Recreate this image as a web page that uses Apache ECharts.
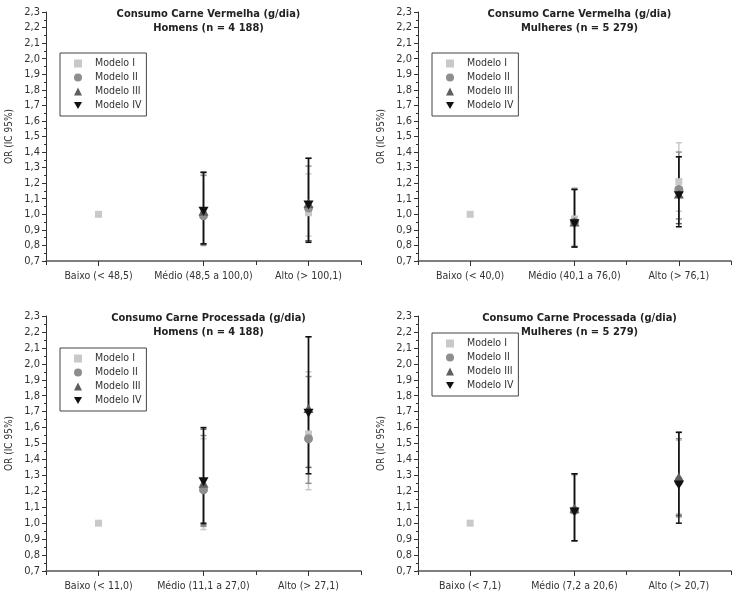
<!DOCTYPE html>
<html><head><meta charset="utf-8">
<script src="https://cdn.jsdelivr.net/npm/echarts@6/dist/echarts.min.js"></script>
<style>html,body{margin:0;padding:0;background:#fff}#c{width:733px;height:593px}</style>
</head><body><div id="c"></div>
<script>
// ---- Data ----
const modelNames = ['Modelo I', 'Modelo II', 'Modelo III', 'Modelo IV'];
const titles = [
  'Consumo Carne Vermelha (g/dia)\nHomens (n = 4 188)',
  'Consumo Carne Vermelha (g/dia)\nMulheres (n = 5 279)',
  'Consumo Carne Processada (g/dia)\nHomens (n = 4 188)',
  'Consumo Carne Processada (g/dia)\nMulheres (n = 5 279)'
];
const catsVermelhaH = ['Baixo (< 48,5)', 'Médio (48,5 a 100,0)', 'Alto (> 100,1)'];
const catsVermelhaM = ['Baixo (< 40,0)', 'Médio (40,1 a 76,0)', 'Alto (> 76,1)'];
const catsProcH = ['Baixo (< 11,0)', 'Médio (11,1 a 27,0)', 'Alto (> 27,1)'];
const catsProcM = ['Baixo (< 7,1)', 'Médio (7,2 a 20,6)', 'Alto (> 20,7)'];

// Panel 1: Carne Vermelha, Homens
const vhOR = [[1.00, 1.00, 1.01], [null, 0.99, 1.04], [null, 1.02, 1.07], [null, 1.02, 1.06]];
const vhLo = [[null, 0.81, 0.86], [null, 0.80, 0.83], [null, 0.81, 0.83], [null, 0.81, 0.82]];
const vhHi = [[null, 1.26, 1.26], [null, 1.25, 1.31], [null, 1.27, 1.36], [null, 1.27, 1.36]];
// Panel 2: Carne Vermelha, Mulheres
const vmOR = [[1.00, 0.97, 1.21], [null, 0.95, 1.16], [null, 0.95, 1.13], [null, 0.94, 1.12]];
const vmLo = [[null, 0.80, 1.02], [null, 0.79, 0.97], [null, 0.79, 0.94], [null, 0.79, 0.92]];
const vmHi = [[null, 1.17, 1.46], [null, 1.16, 1.40], [null, 1.16, 1.37], [null, 1.16, 1.37]];
// Panel 3: Carne Processada, Homens
const phOR = [[1.00, 1.22, 1.56], [null, 1.21, 1.53], [null, 1.25, 1.72], [null, 1.26, 1.69]];
const phLo = [[null, 0.96, 1.21], [null, 0.98, 1.25], [null, 0.99, 1.35], [null, 1.00, 1.31]];
const phHi = [[null, 1.53, 1.95], [null, 1.55, 1.92], [null, 1.59, 2.17], [null, 1.60, 2.17]];
// Panel 4: Carne Processada, Mulheres
const pmOR = [[1.00, 1.08, 1.27], [null, 1.08, 1.26], [null, 1.09, 1.29], [null, 1.07, 1.24]];
const pmLo = [[null, 0.89, 1.06], [null, 0.89, 1.04], [null, 0.89, 1.05], [null, 0.89, 1.00]];
const pmHi = [[null, 1.30, 1.52], [null, 1.31, 1.53], [null, 1.31, 1.57], [null, 1.31, 1.57]];

const yMin = 0.7, yMax = 2.3, yStep = 0.1;

// ---- Styling ----
const FONT = '"DejaVu Sans Condensed", "Liberation Sans Narrow", "Roboto", sans-serif';
const colors = ['#c9c9c9', '#8e8e8e', '#5e5e5e', '#111111'];
const symbols = ['rect', 'circle', 'triangle', 'path://M0,0 L10,0 L5,9 Z'];
const symSizes = [7, 9, [10, 9], [10, 9]];

const panels = [
  {cats: catsVermelhaH, or: vhOR, lo: vhLo, hi: vhHi, grid: {left: 46, top: 12, width: 315, height: 249}, legend: {left: 60, top: 53}},
  {cats: catsVermelhaM, or: vmOR, lo: vmLo, hi: vmHi, grid: {left: 418, top: 12, width: 313, height: 249}, legend: {left: 432, top: 53}},
  {cats: catsProcH, or: phOR, lo: phLo, hi: phHi, grid: {left: 46, top: 316, width: 315, height: 255}, legend: {left: 60, top: 348}},
  {cats: catsProcM, or: pmOR, lo: pmLo, hi: pmHi, grid: {left: 418, top: 316, width: 313, height: 255}, legend: {left: 432, top: 333}}
];

const option = {
  animation: false,
  backgroundColor: '#fff',
  textStyle: {fontFamily: FONT},
  title: [], grid: [], xAxis: [], yAxis: [], legend: [], series: []
};

panels.forEach((p, k) => {
  const g = p.grid;
  option.grid.push({left: g.left, top: g.top, width: g.width, height: g.height});
  option.title.push({
    text: titles[k], left: g.left + g.width / 2, top: g.top - 10, textAlign: 'center',
    textStyle: {fontFamily: FONT, fontSize: 11, fontWeight: 'bold', color: '#222', lineHeight: 14}
  });
  // axis with ticks at category boundaries
  option.xAxis.push({
    type: 'category', gridIndex: k, data: p.cats, boundaryGap: true,
    axisLine: {lineStyle: {color: '#555', width: 1.5}},
    axisTick: {show: true, length: 4, lineStyle: {color: '#333'}},
    axisLabel: {show: false}, splitLine: {show: false}
  });
  // axis with ticks at category centres and labels
  option.xAxis.push({
    type: 'category', gridIndex: k, data: p.cats, boundaryGap: true, position: 'bottom',
    axisLine: {show: false},
    axisTick: {show: true, alignWithLabel: true, length: 5, lineStyle: {color: '#333'}},
    axisLabel: {show: true, interval: 0, margin: 10, fontFamily: FONT, fontSize: 10.5, color: '#333'},
    splitLine: {show: false}
  });
  option.yAxis.push({
    type: 'value', gridIndex: k, min: yMin, max: yMax, interval: yStep,
    name: 'OR (IC 95%)', nameLocation: 'middle', nameRotate: 90, nameGap: 32,
    nameTextStyle: {fontFamily: FONT, fontSize: 10, color: '#333'},
    axisLine: {show: true, lineStyle: {color: '#333'}},
    axisTick: {show: true, length: 4, lineStyle: {color: '#333'}},
    minorTick: {show: true, splitNumber: 2, length: 2, lineStyle: {color: '#333'}},
    axisLabel: {fontFamily: FONT, fontSize: 11, color: '#333', margin: 6,
      formatter: v => v.toFixed(1).replace('.', ',')},
    splitLine: {show: false}
  });
  option.legend.push({
    left: p.legend.left, top: p.legend.top, orient: 'vertical',
    data: modelNames.map(n => ({name: n})),
    borderColor: '#444', borderWidth: 1, padding: [5, 5, 5, 14],
    itemGap: 3, itemWidth: 8, itemHeight: 8,
    textStyle: {fontFamily: FONT, fontSize: 10.5, color: '#333', padding: [0, 0, 0, 8]},
    selectedMode: false
  });
  // error bars
  for (let m = 0; m < 4; m++) {
    const data = [];
    for (let i = 0; i < 3; i++) {
      if (p.lo[m][i] != null && p.hi[m][i] != null) data.push([i, p.lo[m][i], p.hi[m][i]]);
    }
    option.series.push({
      type: 'custom', name: 'ci' + m, xAxisIndex: 2 * k, yAxisIndex: k, z: 2 + m,
      data: data,
      renderItem: (params, api) => {
        const x = api.value(0);
        const a = api.coord([x, api.value(1)]);
        const b = api.coord([x, api.value(2)]);
        const hw = 3;
        const st = {stroke: colors[m], lineWidth: 1.5};
        return {type: 'group', children: [
          {type: 'line', shape: {x1: a[0], y1: a[1], x2: b[0], y2: b[1]}, style: st},
          {type: 'line', shape: {x1: a[0] - hw, y1: a[1], x2: a[0] + hw, y2: a[1]}, style: st},
          {type: 'line', shape: {x1: b[0] - hw, y1: b[1], x2: b[0] + hw, y2: b[1]}, style: st}
        ]};
      }
    });
  }
  // markers
  for (let m = 0; m < 4; m++) {
    const data = [];
    for (let i = 0; i < 3; i++) if (p.or[m][i] != null) data.push([i, p.or[m][i]]);
    option.series.push({
      type: 'scatter', name: modelNames[m], xAxisIndex: 2 * k, yAxisIndex: k, z: 10 + m,
      symbol: symbols[m], symbolSize: symSizes[m],
      itemStyle: {color: colors[m], opacity: 1},
      data: data
    });
  }
});

const chart = echarts.init(document.getElementById('c'), null, {renderer: 'canvas'});
chart.setOption(option);
</script></body></html>
